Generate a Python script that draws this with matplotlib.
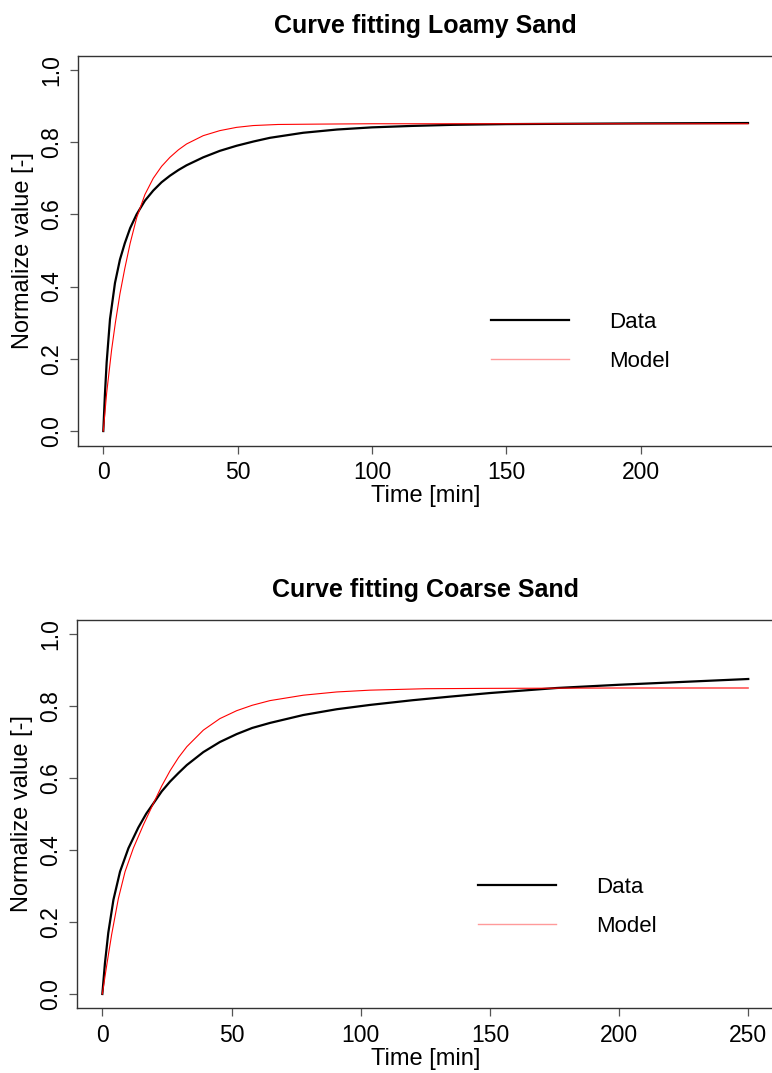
import matplotlib
matplotlib.use("Agg")
import matplotlib.pyplot as plt

plt.rcParams['font.family'] = ['Liberation Sans', 'DejaVu Sans']

# ---------------- data ----------------
titles = ["Curve fitting Loamy Sand", "Curve fitting Coarse Sand"]
xlabel = "Time [min]"
ylabel = "Normalize value [-]"
legend_labels = ["Data", "Model"]

loamy_data_t = [0, 0.6, 1.25, 2.5, 4.35, 6.2, 8, 10, 12.4, 15.5, 18.6, 21.7, 24.8, 28, 31,
                37.2, 43.4, 49.6, 56, 62, 74.4, 87, 100, 115, 130, 150, 175, 200, 240]
loamy_data_v = [0, 0.10, 0.19, 0.31, 0.41, 0.475, 0.52, 0.562, 0.600, 0.638, 0.666, 0.689,
                0.707, 0.723, 0.736, 0.758, 0.776, 0.790, 0.802, 0.812, 0.826, 0.835, 0.841,
                0.845, 0.848, 0.850, 0.851, 0.852, 0.853]
loamy_model_t = [0, 1.25, 3.1, 4.5, 6.2, 8, 10, 12.4, 15.5, 18.6, 21.7, 24.8, 28, 31, 37.2,
                 43.4, 49.6, 55.8, 65, 80, 100, 150, 200, 240]
loamy_model_v = [0, 0.105, 0.225, 0.30, 0.38, 0.45, 0.52, 0.59, 0.655, 0.700, 0.733, 0.758,
                 0.779, 0.795, 0.818, 0.832, 0.841, 0.846, 0.849, 0.850, 0.851, 0.851, 0.851,
                 0.851]

coarse_data_t = [0, 1.0, 2.3, 4.3, 6.85, 10.1, 13.9, 17, 20.4, 23, 26.2, 29.5, 32.7, 39.1,
                 45.5, 52, 58, 64.9, 77.8, 90.7, 103.6, 120, 134.5, 150, 175.8, 200, 225, 250]
coarse_data_v = [0, 0.085, 0.170, 0.262, 0.340, 0.405, 0.462, 0.501, 0.536, 0.563, 0.590,
                 0.614, 0.636, 0.672, 0.700, 0.722, 0.739, 0.753, 0.775, 0.791, 0.803, 0.816,
                 0.826, 0.836, 0.850, 0.859, 0.867, 0.875]
coarse_model_t = [0, 1.7, 3.6, 6.2, 8.8, 12, 15.9, 20.4, 23, 26.2, 29.5, 32.7, 39.1, 45.5,
                  52, 58, 64.9, 77.8, 90.7, 103.6, 125, 150, 200, 250]
coarse_model_v = [0, 0.080, 0.165, 0.265, 0.340, 0.405, 0.470, 0.539, 0.578, 0.620, 0.657,
                  0.687, 0.733, 0.765, 0.787, 0.802, 0.815, 0.830, 0.839, 0.844, 0.848,
                  0.849, 0.850, 0.850]

x_ticks = [[0, 50, 100, 150, 200], [0, 50, 100, 150, 200, 250]]
y_ticks = [0.0, 0.2, 0.4, 0.6, 0.8, 1.0]
x_limits = [(-9.6, 249.6), (-10, 260)]
y_limits = (-0.04, 1.04)

# ---------------- figure ----------------
W, H = 772, 1073
fig = plt.figure(figsize=(W / 100, H / 100), dpi=100)

# axes boxes in pixels: left, right, top, bottom
boxes = [(77.5, 773.8, 55.5, 445.5), (76.5, 774.1, 619.6, 1008.4)]
legend_pos = [(491, 312), (478, 877)]

series = [
    (loamy_data_t, loamy_data_v, loamy_model_t, loamy_model_v),
    (coarse_data_t, coarse_data_v, coarse_model_t, coarse_model_v),
]

spine_col = "#333333"
for i in range(2):
    l, r, t, b = boxes[i]
    ax = fig.add_axes([l / W, 1 - b / H, (r - l) / W, (b - t) / H])
    dt, dv, mt, mv = series[i]
    ax.plot(dt, dv, color="black", lw=1.6, label=legend_labels[0], solid_joinstyle="round")
    ax.plot(mt, mv, color="red", lw=0.8, label=legend_labels[1], solid_joinstyle="round")
    ax.set_xlim(*x_limits[i])
    ax.set_ylim(*y_limits)
    ax.set_xticks(x_ticks[i])
    ax.set_yticks(y_ticks)
    ax.set_yticklabels([f"{v:.1f}" for v in y_ticks], rotation=90, va="center")
    ax.tick_params(axis="both", direction="out", length=6, width=0.9, color="#555555",
                   labelsize=16.5, pad=4)
    ax.tick_params(axis="x", pad=5)
    for s in ax.spines.values():
        s.set_color(spine_col)
        s.set_linewidth(1.0)
    ax.set_title(titles[i], fontsize=18, fontweight="bold", pad=16)
    ax.set_xlabel(xlabel, fontsize=17, labelpad=1)
    ax.set_ylabel(ylabel, fontsize=17, labelpad=5)
    lx, ly = legend_pos[i]
    leg = ax.legend(loc="upper left", bbox_to_anchor=(lx / W, 1 - ly / H),
                    bbox_transform=fig.transFigure, frameon=False, fontsize=16,
                    handlelength=3.5, handletextpad=1.8, labelspacing=0.8, borderpad=0,
                    borderaxespad=0)
    leg.get_lines()[1].set_linewidth(1.0)
    leg.get_lines()[1].set_color("#ff9a9a")

fig.savefig("out.png", dpi=100)
